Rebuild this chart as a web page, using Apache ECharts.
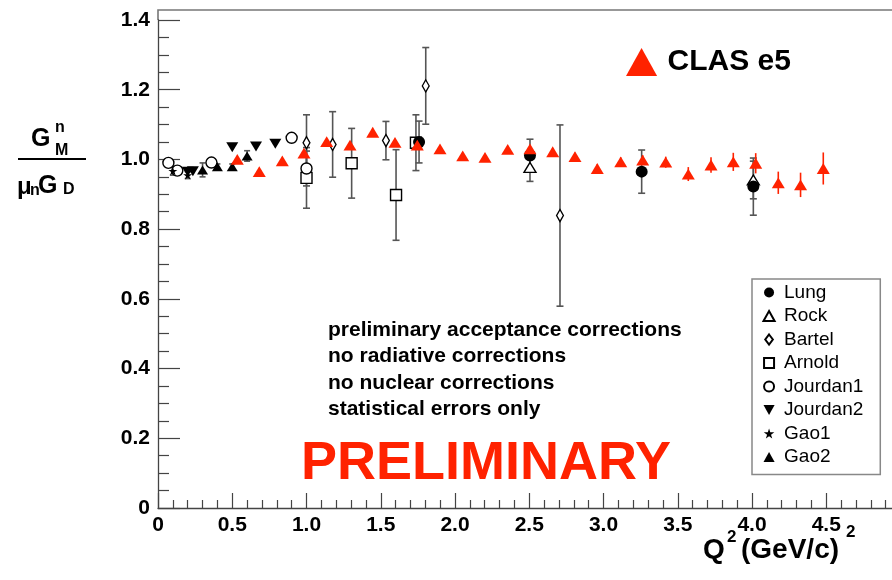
<!DOCTYPE html>
<html>
<head>
<meta charset="utf-8">
<script src="https://cdn.jsdelivr.net/npm/echarts@6/dist/echarts.min.js"></script>
<style>
  html, body { margin: 0; padding: 0; background: #fff; }
  #chart { width: 892px; height: 580px; }
</style>
</head>
<body>
<div id="chart"></div>
<script>
// Each row: [Q^2 (GeV/c)^2, G_M^n / (mu_n G_D), statistical error]
const clasE5 = [
  [0.534, 1.000, 0.006], [0.682, 0.965, 0.006], [0.837, 0.996, 0.006],
  [0.983, 1.018, 0.006], [1.136, 1.051, 0.007], [1.293, 1.041, 0.007],
  [1.446, 1.078, 0.007], [1.596, 1.049, 0.007], [1.746, 1.041, 0.008],
  [1.899, 1.030, 0.008], [2.052, 1.010, 0.008], [2.202, 1.006, 0.009],
  [2.355, 1.029, 0.009], [2.505, 1.030, 0.010], [2.658, 1.022, 0.010],
  [2.808, 1.008, 0.011], [2.958, 0.974, 0.012], [3.116, 0.993, 0.013],
  [3.264, 0.998, 0.014], [3.419, 0.992, 0.016], [3.571, 0.958, 0.020],
  [3.724, 0.984, 0.022], [3.874, 0.993, 0.026], [4.025, 0.989, 0.029],
  [4.177, 0.933, 0.032], [4.327, 0.927, 0.035], [4.480, 0.974, 0.046]
];
const lung = [[1.758, 1.050, 0.060], [2.505, 1.011, 0.047], [3.257, 0.965, 0.062], [4.009, 0.922, 0.082]];
const rock = [[2.505, 0.977, 0.040], [4.009, 0.941, 0.054]];
const bartel = [[1.000, 1.048, 0.080], [1.176, 1.043, 0.094], [1.535, 1.054, 0.055], [1.803, 1.211, 0.110], [2.707, 0.839, 0.260]];
const arnold = [[1.000, 0.947, 0.087], [1.304, 0.989, 0.100], [1.603, 0.898, 0.130], [1.737, 1.048, 0.080]];
const jourdan1 = [[0.070, 0.990, 0.008], [0.130, 0.968, 0.008], [0.360, 0.991, 0.008], [0.900, 1.062, 0.008], [1.000, 0.974, 0.050]];
const jourdan2 = [[0.200, 0.965, 0.006], [0.235, 0.966, 0.006], [0.500, 1.035, 0.006], [0.660, 1.037, 0.006], [0.790, 1.045, 0.006]];
const gao1 = [[0.100, 0.967, 0.012], [0.200, 0.955, 0.010]];
const gao2 = [[0.300, 0.970, 0.020], [0.400, 0.979, 0.008], [0.500, 0.979, 0.008], [0.600, 1.010, 0.015]];

const notes = [
  'preliminary acceptance corrections',
  'no radiative corrections',
  'no nuclear corrections',
  'statistical errors only'
];

const FONT = '"Liberation Sans", Arial, Helvetica, sans-serif';
const RED = '#ff2200';
const STAR = 'path://M50,0 L61,35 L98,35 L68,57 L79,91 L50,70 L21,91 L32,57 L2,35 L39,35 Z';
const TRI_UP = 'path://M50,0 L100,90 L0,90 Z';
const TRI_DOWN = 'path://M0,0 L100,0 L50,90 Z';
const DIAMOND = 'path://M38,0 L76,50 L38,100 L0,50 Z';
const SQUARE = 'path://M0,0 L100,0 L100,100 L0,100 Z';

function errorBars(name, rows, color, cap) {
  return {
    type: 'custom',
    name: name + ' errors',
    data: rows,
    encode: { x: 0, y: 1 },
    silent: true,
    z: 1,
    renderItem(params, api) {
      const x = api.value(0), y = api.value(1), e = api.value(2);
      const hi = api.coord([x, y + e]);
      const lo = api.coord([x, y - e]);
      const style = { stroke: color, lineWidth: 1.6 };
      const children = [{ type: 'line', shape: { x1: hi[0], y1: hi[1], x2: lo[0], y2: lo[1] }, style }];
      if (cap) {
        children.push({ type: 'line', shape: { x1: hi[0] - cap, y1: hi[1], x2: hi[0] + cap, y2: hi[1] }, style });
        children.push({ type: 'line', shape: { x1: lo[0] - cap, y1: lo[1], x2: lo[0] + cap, y2: lo[1] }, style });
      }
      return { type: 'group', children };
    }
  };
}

function points(name, rows, symbol, size, filled) {
  return {
    type: 'scatter',
    name,
    data: rows.map(r => [r[0], r[1]]),
    symbol,
    symbolSize: size,
    symbolKeepAspect: true,
    z: 3,
    itemStyle: filled
      ? { color: '#000', opacity: 1 }
      : { color: '#fff', borderColor: '#000', borderWidth: 1.4, opacity: 1 }
  };
}

const ERR = '#555';
const series = [
  errorBars('Lung', lung, ERR, 3.5),
  errorBars('Rock', rock, ERR, 3.5),
  errorBars('Bartel', bartel, ERR, 3.5),
  errorBars('Arnold', arnold, ERR, 3.5),
  errorBars('Jourdan1', jourdan1, ERR, 3.5),
  errorBars('Jourdan2', jourdan2, ERR, 0),
  errorBars('Gao1', gao1, ERR, 3),
  errorBars('Gao2', gao2, ERR, 3),
  points('Arnold', arnold, SQUARE, 11, false),
  points('Rock', rock, TRI_UP, [12, 11], false),
  points('Bartel', bartel, DIAMOND, [9, 12], false),
  points('Jourdan1', jourdan1, 'circle', 11, false),
  points('Lung', lung, 'circle', 12, true),
  points('Jourdan2', jourdan2, TRI_DOWN, [12, 11], true),
  points('Gao1', gao1, STAR, 9, true),
  points('Gao2', gao2, TRI_UP, [11, 10], true),
  Object.assign(errorBars('CLAS e5', clasE5, RED, 0), { z: 4 }),
  {
    type: 'scatter', name: 'CLAS e5',
    data: clasE5.map(r => [r[0], r[1]]),
    symbol: TRI_UP, symbolSize: [13, 12], symbolKeepAspect: true, z: 5,
    itemStyle: { color: RED, opacity: 1 }
  }
];

const graphic = [
  // frame above the top tick
  { type: 'polyline', shape: { points: [[158, 20], [158, 10], [893, 10]] },
    style: { stroke: '#777', lineWidth: 1.6, fill: null }, silent: true },
  // y-axis title: G_M^n / (mu_n G_D)
  { type: 'text', x: 31, y: 127, style: { text: 'G', font: 'bold 25px ' + FONT, fill: '#000' } },
  { type: 'text', x: 55, y: 120, style: { text: 'n', font: 'bold 16px ' + FONT, fill: '#000' } },
  { type: 'text', x: 55, y: 143, style: { text: 'M', font: 'bold 16px ' + FONT, fill: '#000' } },
  { type: 'line', shape: { x1: 18, y1: 159, x2: 86, y2: 159 }, style: { stroke: '#000', lineWidth: 2 } },
  { type: 'text', x: 17, y: 175, style: { text: 'μ', font: 'bold 24px ' + FONT, fill: '#000' } },
  { type: 'text', x: 30, y: 183, style: { text: 'n', font: 'bold 16px ' + FONT, fill: '#000' } },
  { type: 'text', x: 38, y: 174, style: { text: 'G', font: 'bold 25px ' + FONT, fill: '#000' } },
  { type: 'text', x: 63, y: 182, style: { text: 'D', font: 'bold 16px ' + FONT, fill: '#000' } },
  // x-axis title: Q^2 (GeV/c)^2
  { type: 'text', x: 703, y: 536, style: { text: 'Q', font: 'bold 28px ' + FONT, fill: '#000' } },
  { type: 'text', x: 727, y: 529, style: { text: '2', font: 'bold 17px ' + FONT, fill: '#000' } },
  { type: 'text', x: 741, y: 536, style: { text: '(GeV/c)', font: 'bold 28px ' + FONT, fill: '#000' } },
  { type: 'text', x: 846, y: 524, style: { text: '2', font: 'bold 17px ' + FONT, fill: '#000' } },
  // PRELIMINARY stamp
  { type: 'text', x: 486, y: 464,
    style: { text: 'PRELIMINARY', font: 'bold 54px ' + FONT, fill: RED,
             align: 'center', verticalAlign: 'middle', textAlign: 'center', textVerticalAlign: 'middle' } }
];
notes.forEach((t, i) => {
  graphic.push({ type: 'text', x: 328, y: 330 + i * 26.5,
    style: { text: t, font: 'bold 21px ' + FONT, fill: '#000',
             verticalAlign: 'middle', textVerticalAlign: 'middle' } });
});

const chart = echarts.init(document.getElementById('chart'), null, { renderer: 'canvas' });
chart.setOption({
  animation: false,
  backgroundColor: '#fff',
  textStyle: { fontFamily: FONT },
  grid: { left: 158, top: 20, width: 742.5, height: 488, containLabel: false, outerBoundsMode: 'none' },
  xAxis: {
    type: 'value', min: 0, max: 5, interval: 0.5,
    axisLine: { show: true, lineStyle: { color: '#444', width: 1.3 } },
    axisTick: { show: true, inside: true, length: 15, lineStyle: { color: '#444', width: 1.2 } },
    minorTick: { show: true, splitNumber: 5, length: 8, lineStyle: { color: '#444', width: 1.2 } },
    splitLine: { show: false },
    axisLabel: {
      margin: 7, color: '#000', fontSize: 21, fontWeight: 'bold', fontFamily: FONT,
      formatter: v => (v === 0 ? '0' : (v < 4.99 ? v.toFixed(1) : ''))
    }
  },
  yAxis: {
    type: 'value', min: 0, max: 1.4, interval: 0.2,
    axisLine: { show: true, lineStyle: { color: '#444', width: 1.3 } },
    axisTick: { show: true, inside: true, length: 22, lineStyle: { color: '#444', width: 1.2 } },
    minorTick: { show: true, splitNumber: 4, length: 11, lineStyle: { color: '#444', width: 1.2 } },
    splitLine: { show: false },
    axisLabel: {
      margin: 8, color: '#000', fontSize: 21, fontWeight: 'bold', fontFamily: FONT,
      formatter: v => (v === 0 ? '0' : v.toFixed(1))
    }
  },
  legend: [
    {
      data: ['Lung', 'Rock', 'Bartel', 'Arnold', 'Jourdan1', 'Jourdan2', 'Gao1', 'Gao2'],
      orient: 'vertical', left: 752, top: 279,
      padding: [4, 17, 8, 10.5], itemGap: 4.5, itemWidth: 20, itemHeight: 10,
      symbolKeepAspect: true,
      borderColor: '#888', borderWidth: 1.5, backgroundColor: '#fff',
      selectedMode: false,
      textStyle: { fontSize: 19, color: '#000', fontFamily: FONT }
    },
    {
      data: ['CLAS e5'],
      left: 626, top: 47, padding: 0, itemWidth: 42, itemHeight: 28,
      symbolKeepAspect: true,
      selectedMode: false,
      textStyle: { fontSize: 30, fontWeight: 'bold', color: '#000', fontFamily: FONT }
    }
  ],
  graphic,
  series
});
</script>
</body>
</html>
